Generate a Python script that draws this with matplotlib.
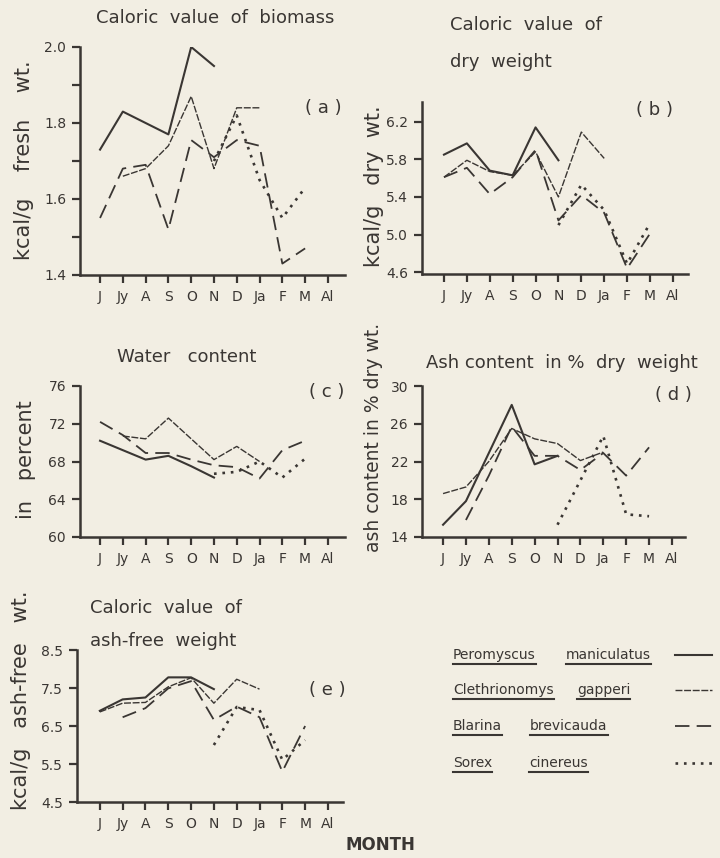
import numpy as np
import matplotlib
matplotlib.use('Agg')
import matplotlib.pyplot as plt
from matplotlib.lines import Line2D

nan = np.nan
months = ['J', 'Jy', 'A', 'S', 'O', 'N', 'D', 'Ja', 'F', 'M', 'Al']
species = ['Peromyscus maniculatus', 'Clethrionomys gapperi',
           'Blarina brevicauda', 'Sorex cinereus']

# (a) caloric value of biomass, kcal/g fresh wt.
a_pero = [1.73, 1.83, 1.80, 1.77, 2.00, 1.95, nan, nan, nan, nan, nan]
a_cleth = [nan, 1.66, 1.68, 1.74, 1.87, 1.68, 1.84, 1.84, nan, nan, nan]
a_blar = [1.55, 1.68, 1.69, 1.52, 1.755, 1.71, 1.755, 1.74, 1.43, 1.47, nan]
a_sorex = [nan, nan, nan, nan, nan, 1.70, 1.82, 1.65, 1.55, 1.63, nan]

# (b) caloric value of dry weight
b_pero = [5.85, 5.97, 5.68, 5.63, 6.14, 5.79, nan, nan, nan, nan, nan]
b_cleth = [5.61, 5.79, 5.67, 5.63, 5.88, 5.40, 6.09, 5.81, nan, nan, nan]
b_blar = [5.61, 5.71, 5.43, 5.61, 5.90, 5.15, 5.42, 5.23, 4.64, 5.01, nan]
b_sorex = [nan, nan, nan, nan, nan, 5.10, 5.53, 5.26, 4.69, 5.12, nan]

# (c) water content, percent
c_pero = [70.2, 69.2, 68.2, 68.6, 67.5, 66.3, nan, nan, nan, nan, nan]
c_cleth = [nan, 70.7, 70.4, 72.6, 70.4, 68.2, 69.6, 68.0, nan, nan, nan]
c_blar = [72.2, 70.8, 68.9, 68.9, 68.2, 67.6, 67.4, 66.2, 69.2, 70.2, nan]
c_sorex = [nan, nan, nan, nan, nan, 66.7, 66.9, 68.0, 66.3, 68.3, nan]

# (d) ash content in % dry weight
d_pero = [15.3, 17.8, 22.9, 28.0, 21.7, 22.6, nan, nan, nan, nan, nan]
d_cleth = [18.6, 19.3, 22.0, 25.5, 24.4, 23.9, 22.1, 23.0, nan, nan, nan]
d_blar = [nan, 15.8, 20.5, 25.7, 22.6, 22.6, 21.1, 22.9, 20.5, 23.5, nan]
d_sorex = [nan, nan, nan, nan, nan, 15.3, 20.0, 24.7, 16.4, 16.2, nan]

# (e) caloric value of ash-free weight
e_pero = [6.90, 7.20, 7.25, 7.78, 7.78, 7.47, nan, nan, nan, nan, nan]
e_cleth = [6.87, 7.10, 7.12, 7.53, 7.77, 7.10, 7.73, 7.47, nan, nan, nan]
e_blar = [nan, 6.73, 6.97, 7.49, 7.68, 6.66, 7.01, 6.73, 5.30, 6.50, nan]
e_sorex = [nan, nan, nan, nan, nan, 6.00, 7.00, 6.92, 5.61, 6.13, nan]

ink = '#3a3633'
bg = '#f2eee3'
styles = [
    dict(linestyle='-', lw=1.5),
    dict(linestyle=(0, (5, 1.2)), lw=1.0),
    dict(linestyle=(0, (8, 4)), lw=1.3),
    dict(linestyle=(0, (1, 2.2)), lw=1.9),
]

plt.rcParams['font.family'] = ['DejaVu Sans']
fig = plt.figure(figsize=(7.2, 8.58), dpi=100, facecolor=bg)
W, H = 720, 858


def rect(l, r, t, b):
    return [l / W, 1 - b / H, (r - l) / W, (b - t) / H]


def panel(box, series, ylim, yticks, ylabels, xlim, minor=None):
    ax = fig.add_axes(rect(*box))
    ax.set_facecolor('none')
    x = np.arange(len(months))
    for ys, st in zip(series, styles):
        ax.plot(x, ys, color=ink, **st)
    ax.set_xlim(*xlim)
    ax.set_ylim(*ylim)
    ax.set_xticks(x)
    ax.set_xticklabels(months, fontsize=10, color=ink)
    ax.set_yticks(yticks)
    ax.set_yticklabels(ylabels, fontsize=10, color=ink)
    if minor is not None:
        ax.set_yticks(minor, minor=True)
    for s in ['top', 'right']:
        ax.spines[s].set_visible(False)
    for s in ['left', 'bottom']:
        ax.spines[s].set_linewidth(1.8)
        ax.spines[s].set_color(ink)
    ax.tick_params(axis='both', which='both', direction='out', length=6,
                   width=1.6, color=ink, pad=4)
    ax.tick_params(axis='x', pad=5)
    return ax


panel((80, 345, 47, 275), [a_pero, a_cleth, a_blar, a_sorex], (1.4, 2.0),
      [1.4, 1.6, 1.8, 2.0], ['1.4', '1.6', '1.8', '2.0'], (-0.88, 10.75),
      minor=[1.5, 1.7, 1.9])
panel((422, 688, 102, 274), [b_pero, b_cleth, b_blar, b_sorex], (4.58, 6.41),
      [4.6, 5.0, 5.4, 5.8, 6.2], ['4.6', '5.0', '5.4', '5.8', '6.2'],
      (-0.96, 10.66))
panel((80, 345, 386, 537), [c_pero, c_cleth, c_blar, c_sorex], (60, 76),
      [60, 64, 68, 72, 76], ['60', '64', '68', '72', '76'], (-0.88, 10.75))
panel((422, 685, 386, 537), [d_pero, d_cleth, d_blar, d_sorex], (14, 30),
      [14, 18, 22, 26, 30], ['14', '18', '22', '26', '30'], (-0.92, 10.57))
panel((77, 343, 650, 802), [e_pero, e_cleth, e_blar, e_sorex], (4.5, 8.5),
      [4.5, 5.5, 6.5, 7.5, 8.5], ['4.5', '5.5', '6.5', '7.5', '8.5'],
      (-1.0, 10.66))


def ftext(x, y, s, **kw):
    kw.setdefault('color', ink)
    return fig.text(x / W, 1 - y / H, s, **kw)


# titles
ftext(215, 18, 'Caloric  value  of  biomass', fontsize=13, ha='center', va='center')
ftext(450, 25, 'Caloric  value  of', fontsize=13, ha='left', va='center')
ftext(450, 62, 'dry  weight', fontsize=13, ha='left', va='center')
ftext(187, 357, 'Water   content', fontsize=13, ha='center', va='center')
ftext(562, 363, 'Ash content  in %  dry  weight', fontsize=13, ha='center', va='center')
ftext(90, 608, 'Caloric  value  of', fontsize=13, ha='left', va='center')
ftext(90, 641, 'ash-free  weight', fontsize=13, ha='left', va='center')

# panel letters
for x, y, s in [(323, 108, '( a )'), (655, 110, '( b )'), (327, 392, '( c )'),
                (673, 395, '( d )'), (327, 690, '( e )')]:
    ftext(x, y, s, fontsize=13, ha='center', va='center')

# y labels
ftext(24, 160, 'kcal/g    fresh    wt.', fontsize=15, rotation=90, ha='center', va='center')
ftext(374, 186, 'kcal/g   dry  wt.', fontsize=15, rotation=90, ha='center', va='center')
ftext(26, 460, 'in   percent', fontsize=15, rotation=90, ha='center', va='center')
ftext(373, 437, 'ash content in % dry wt.', fontsize=13.5, rotation=90, ha='center', va='center')
ftext(21, 700, 'kcal/g   ash-free   wt.', fontsize=15, rotation=90, ha='center', va='center')

ftext(380, 845, 'MONTH', fontsize=12, fontweight='bold', ha='center', va='center')

# legend with underlined words
renderer = fig.canvas.get_renderer()
leg_rows = [(655, [('Peromyscus', 453), ('maniculatus', 566)]),
            (690, [('Clethrionomys', 453), ('gapperi', 577)]),
            (726, [('Blarina', 453), ('brevicauda', 530)]),
            (763, [('Sorex', 453), ('cinereus', 529)])]
for (y, words), st in zip(leg_rows, styles):
    for w, x in words:
        t = ftext(x, y, w, fontsize=10, ha='left', va='center')
        bb = t.get_window_extent(renderer)
        yu = bb.y0 - 2
        fig.add_artist(Line2D([bb.x0 / W, bb.x1 / W], [yu / H, yu / H],
                              transform=fig.transFigure, color=ink, lw=1.5))
    fig.add_artist(Line2D([675 / W, 712 / W], [1 - y / H, 1 - y / H],
                          transform=fig.transFigure, color=ink, **st))

fig.savefig('out.png', dpi=100, facecolor=bg)
